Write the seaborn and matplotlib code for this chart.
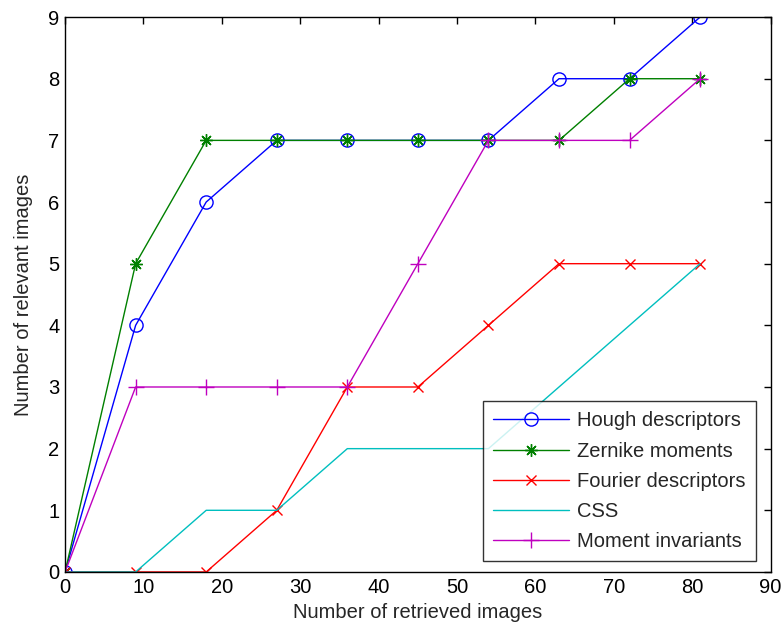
import matplotlib
matplotlib.use("Agg")
import matplotlib.pyplot as plt
import seaborn as sns
import pandas as pd

# Retrieval results: relevant images found vs. number retrieved
retrieved = [0, 9, 18, 27, 36, 45, 54, 63, 72, 81]
hough = [0, 4, 6, 7, 7, 7, 7, 8, 8, 9]
zernike = [0, 5, 7, 7, 7, 7, 7, 7, 8, 8]
fourier = [0, 0, 0, 1, 3, 3, 4, 5, 5, 5]
css = [0, 0, 1, 1, 2, 2, 2, 3, 4, 5]
moments = [0, 3, 3, 3, 3, 5, 7, 7, 7, 8]

series_names = ["Hough descriptors", "Zernike moments", "Fourier descriptors",
                "CSS", "Moment invariants"]
series_values = [hough, zernike, fourier, css, moments]

sns.set_style("white")
plt.rcParams["font.family"] = ["Liberation Sans", "DejaVu Sans"]

blue, green, red, cyan, magenta = (0, 0, 1), (0, 0.5, 0), (1, 0, 0), (0, 0.75, 0.75), (0.75, 0, 0.75)
styles = {
    "Hough descriptors": dict(color=blue, marker="o", markersize=9.5,
                              markerfacecolor="none", markeredgecolor=blue,
                              markeredgewidth=1.0),
    "Zernike moments": dict(color=green, marker=(8, 2, 0), markersize=9,
                            markeredgecolor=green, markeredgewidth=1.0),
    "Fourier descriptors": dict(color=red, marker="x", markersize=6.5,
                                markeredgecolor=red, markeredgewidth=1.0),
    "CSS": dict(color=cyan, marker=None),
    "Moment invariants": dict(color=magenta, marker="+", markersize=11,
                              markeredgecolor=magenta, markeredgewidth=1.0),
}

fig = plt.figure(figsize=(7.84, 6.32), dpi=100)
ax = fig.add_axes([0.083, 0.095, 0.9, 0.878])

for name, vals in zip(series_names, series_values):
    df = pd.DataFrame({"retrieved": retrieved, "relevant": vals})
    sns.lineplot(data=df, x="retrieved", y="relevant", ax=ax, label=name,
                 linewidth=1.0, **styles[name])

ax.set_xlim(0, 90)
ax.set_ylim(0, 9)
ax.set_xticks(range(0, 91, 10))
ax.set_yticks(range(0, 10))
ax.tick_params(direction="in", length=5, width=1, top=True, right=True,
               labelsize=14.5, colors="black", pad=4)
for s in ax.spines.values():
    s.set_visible(True)
    s.set_color("black")
    s.set_linewidth(1.0)

ax.set_xlabel("Number of retrieved images", fontsize=14.5, labelpad=5)
ax.set_ylabel("Number of relevant images", fontsize=14.5, labelpad=11)

leg = ax.legend(loc="lower right", bbox_to_anchor=(0.979, 0.02), fontsize=14.5,
                frameon=True, fancybox=False, edgecolor="black",
                handlelength=3.8, borderpad=0.5, labelspacing=0.55,
                handletextpad=0.4, borderaxespad=0)
leg.get_frame().set_linewidth(1.0)

fig.savefig("out.png", dpi=100, facecolor="white")
